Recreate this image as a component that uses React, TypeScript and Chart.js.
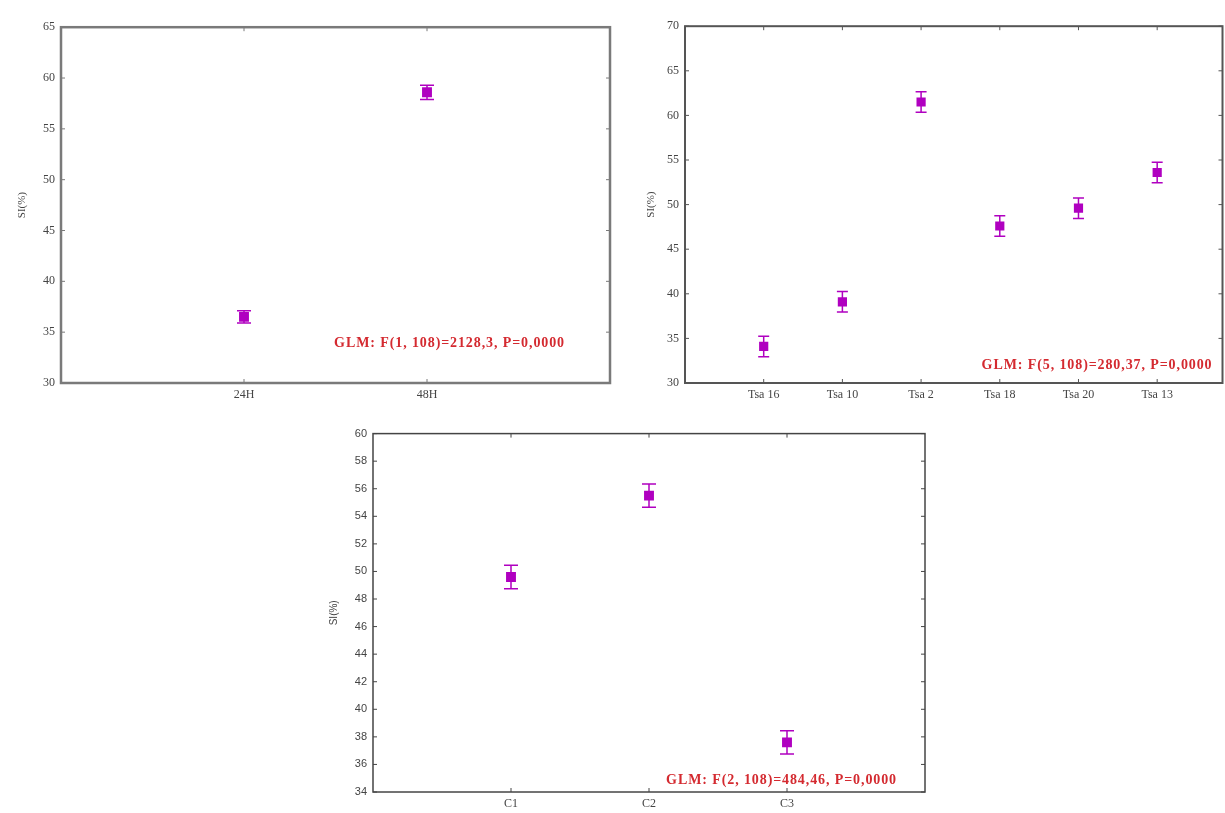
import React, { useEffect, useRef } from 'react';
import { Chart, registerables } from 'chart.js';
Chart.register(...registerables);

// ---- Data ----
const catsA = ['24H', '48H'];
const meansA = [36.5, 58.6];
const errA = [0.6, 0.7];
const glmA = 'GLM: F(1, 108)=2128,3, P=0,0000';

const catsB = ['Tsa 16', 'Tsa 10', 'Tsa 2', 'Tsa 18', 'Tsa 20', 'Tsa 13'];
const meansB = [34.1, 39.1, 61.5, 47.6, 49.6, 53.6];
const errB = [1.15, 1.15, 1.15, 1.15, 1.15, 1.15];
const glmB = 'GLM: F(5, 108)=280,37, P=0,0000';

const catsC = ['C1', 'C2', 'C3'];
const meansC = [49.6, 55.5, 37.6];
const errC = [0.85, 0.85, 0.85];
const glmC = 'GLM: F(2, 108)=484,46, P=0,0000';

const yLabel = 'SI(%)';
const MARK = '#b000c0';
const NOTE = '#d42a30';

type PanelProps = {
  cats: string[]; means: number[]; errs: number[]; glm: string;
  yMin: number; yMax: number; yStep: number; xMax: number;
  left: number; top: number; width: number; height: number;
  yw: number; xh: number; padTop: number; padRight: number;
  frameColor: string; frameWidth: number;
  yFont: string; ySize: number; xFont: string; xSize: number; titleSize: number;
  noteRight: number; noteUp: number; r: number; cap: number;
};

function Panel(p: PanelProps) {
  const ref = useRef<HTMLCanvasElement>(null);
  useEffect(() => {
    const canvas = ref.current!;
    const plugin = {
      id: 'decor',
      beforeDatasetsDraw(chart: any) {
        const { ctx, scales } = chart;
        const x = scales.x, y = scales.y;
        ctx.save();
        ctx.strokeStyle = MARK;
        ctx.lineWidth = 1.5;
        p.means.forEach((m, i) => {
          const px = x.getPixelForValue(i + 1);
          const t = y.getPixelForValue(m + p.errs[i]);
          const b = y.getPixelForValue(m - p.errs[i]);
          ctx.beginPath();
          ctx.moveTo(px, t); ctx.lineTo(px, b);
          ctx.moveTo(px - p.cap / 2, t); ctx.lineTo(px + p.cap / 2, t);
          ctx.moveTo(px - p.cap / 2, b); ctx.lineTo(px + p.cap / 2, b);
          ctx.stroke();
        });
        ctx.restore();
      },
      afterDraw(chart: any) {
        const { ctx, chartArea: a, scales } = chart;
        const x = scales.x, y = scales.y;
        ctx.save();
        ctx.strokeStyle = p.frameColor;
        ctx.lineWidth = 1;
        y.ticks.forEach((t: any) => {
          const py = y.getPixelForValue(t.value);
          ctx.beginPath();
          ctx.moveTo(a.left, py); ctx.lineTo(a.left + 4, py);
          ctx.moveTo(a.right, py); ctx.lineTo(a.right - 4, py);
          ctx.stroke();
        });
        p.cats.forEach((_, i) => {
          const px = x.getPixelForValue(i + 1);
          ctx.beginPath();
          ctx.moveTo(px, a.bottom); ctx.lineTo(px, a.bottom - 4);
          ctx.moveTo(px, a.top); ctx.lineTo(px, a.top + 4);
          ctx.stroke();
        });
        ctx.lineWidth = p.frameWidth;
        ctx.strokeRect(a.left, a.top, a.right - a.left, a.bottom - a.top);
        ctx.fillStyle = NOTE;
        ctx.font = 'bold 14px "Liberation Serif", "Times New Roman", serif';
        try { (ctx as any).letterSpacing = '0.9px'; } catch (e) {}
        ctx.textAlign = 'right';
        ctx.textBaseline = 'middle';
        ctx.fillText(p.glm, a.right - p.noteRight, a.bottom - p.noteUp);
        ctx.restore();
      },
    };
    const chart = new Chart(canvas, {
      type: 'scatter',
      data: {
        datasets: [{
          data: p.means.map((m, i) => ({ x: i + 1, y: m })),
          pointStyle: 'rect',
          pointRadius: p.r,
          pointHoverRadius: p.r,
          backgroundColor: MARK,
          borderColor: MARK,
          borderWidth: 0,
        }],
      },
      options: {
        animation: false,
        responsive: false,
        maintainAspectRatio: false,
        events: [],
        layout: { padding: { top: p.padTop, right: p.padRight, left: 0, bottom: 0 } },
        plugins: { legend: { display: false }, tooltip: { enabled: false } },
        scales: {
          x: {
            type: 'linear', min: 0, max: p.xMax,
            grid: { display: false, drawTicks: false },
            border: { display: false },
            afterFit: (s: any) => { s.height = p.xh; },
            ticks: {
              stepSize: 1, autoSkip: false, maxRotation: 0, padding: 5,
              color: '#444',
              font: { family: p.xFont, size: p.xSize },
              callback: (v: any) => {
                const n = Number(v);
                return Number.isInteger(n) && n >= 1 && n <= p.cats.length ? p.cats[n - 1] : '';
              },
            },
          },
          y: {
            type: 'linear', min: p.yMin, max: p.yMax,
            grid: { display: false, drawTicks: false },
            border: { display: false },
            afterFit: (s: any) => { s.width = p.yw; },
            ticks: {
              stepSize: p.yStep, padding: 6, color: '#444',
              font: { family: p.yFont, size: p.ySize },
            },
            title: {
              display: true, text: yLabel, color: '#444',
              padding: { top: 5, bottom: 0 },
              font: { family: p.yFont, size: p.titleSize },
            },
          },
        },
      },
      plugins: [plugin],
    } as any);
    return () => chart.destroy();
  }, []);
  return (
    <div style={{ position: 'absolute', left: p.left, top: p.top, width: p.width, height: p.height }}>
      <canvas ref={ref} width={p.width} height={p.height} style={{ display: 'block' }} />
    </div>
  );
}

const SERIF = '"Liberation Serif", "Times New Roman", serif';
const SANS = '"Liberation Sans", Arial, sans-serif';

export default function App() {
  return (
    <div style={{ position: 'absolute', left: 0, top: 0, width: 1225, height: 813, background: '#fff', overflow: 'hidden' }}>
      <Panel cats={catsA} means={meansA} errs={errA} glm={glmA}
        yMin={30} yMax={65} yStep={5} xMax={3}
        left={11} top={14} width={609} height={399} yw={50} xh={30} padTop={10} padRight={10}
        frameColor="#7a7a7a" frameWidth={2.5} yFont={SERIF} ySize={12} xFont={SERIF} xSize={12} titleSize={11}
        noteRight={45} noteUp={40} r={7} cap={14} />
      <Panel cats={catsB} means={meansB} errs={errB} glm={glmB}
        yMin={30} yMax={70} yStep={5} xMax={6.83}
        left={640} top={13} width={589} height={400} yw={45} xh={30} padTop={10} padRight={0}
        frameColor="#555" frameWidth={2} yFont={SERIF} ySize={12} xFont={SERIF} xSize={12} titleSize={11}
        noteRight={10} noteUp={18} r={6.5} cap={11} />
      <Panel cats={catsC} means={meansC} errs={errC} glm={glmC}
        yMin={34} yMax={60} yStep={2} xMax={4}
        left={323} top={421} width={612} height={391} yw={50} xh={20} padTop={10} padRight={10}
        frameColor="#444" frameWidth={1.5} yFont={SANS} ySize={11} xFont={SERIF} xSize={12} titleSize={10}
        noteRight={28} noteUp={12} r={7} cap={14} />
    </div>
  );
}
